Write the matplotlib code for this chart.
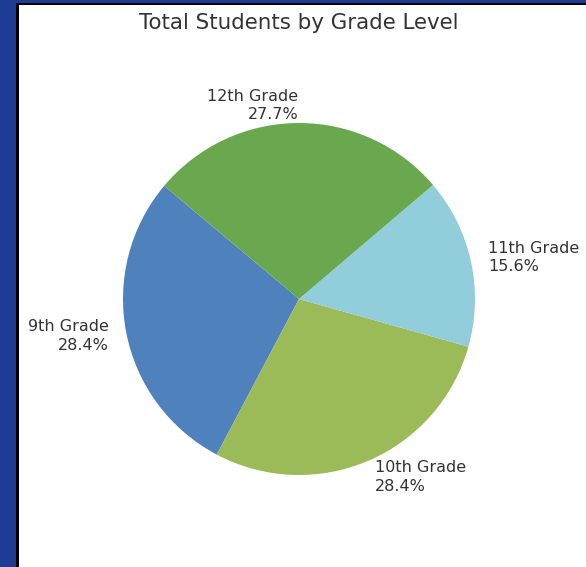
import matplotlib
matplotlib.use("Agg")
import matplotlib.pyplot as plt
from matplotlib.patches import Rectangle

grades = ["9th Grade", "10th Grade", "11th Grade", "12th Grade"]
shares = [28.4, 28.4, 15.6, 27.7]
colors = ["#4f81bd", "#9bbb59", "#92cddc", "#6aa84f"]
title = "Total Students by Grade Level"

W, H = 586, 567
fig = plt.figure(figsize=(W / 100, H / 100), dpi=100)
fig.patch.set_facecolor("#1e3c96")

# white panel with black border
fig.add_artist(Rectangle((16 / W, -0.01), 1.1, 1 - 3 / H + 0.01,
                         transform=fig.transFigure, facecolor="black",
                         edgecolor="none", zorder=0))
fig.add_artist(Rectangle((19 / W, -0.01), 1.1, 1 - 5 / H + 0.01,
                         transform=fig.transFigure, facecolor="white",
                         edgecolor="none", zorder=0))

cx, cy, r = 299, 299, 176
size = 2.5 * r
ax = fig.add_axes([(cx - size / 2) / W, (H - cy - size / 2) / H, size / W, size / H])
ax.set_facecolor("none")

labels = [f"{g}\n{s:.1f}%" for g, s in zip(grades, shares)]
wedges, texts = ax.pie(shares, labels=labels, colors=colors, startangle=140,
                       counterclock=True, labeldistance=1.1,
                       textprops=dict(fontsize=11.5, color="#333333",
                                      linespacing=1.3))
ax.set_aspect("equal")

fig.text(cx / W, 1 - 23 / H, title, ha="center", va="center",
         fontsize=15.4, color="#333333")

fig.savefig("out.png", dpi=100)
